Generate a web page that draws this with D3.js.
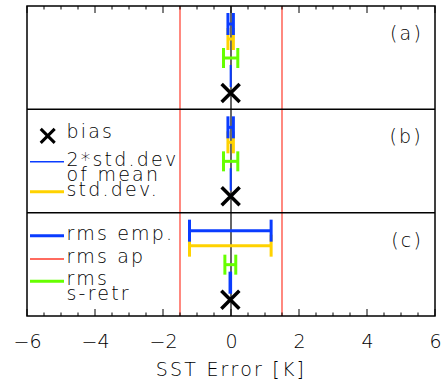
<!DOCTYPE html>
<html>
<head>
<meta charset="utf-8">
<script src="https://cdn.jsdelivr.net/npm/d3@7"></script>
<style>
  html, body { margin: 0; padding: 0; background: #fff; }
  svg text { font-family: "DejaVu Sans", sans-serif; font-weight: 200; font-size: 19px; letter-spacing: 2.2px; fill: #000; }
</style>
</head>
<body>
<svg id="chart" width="441" height="387"></svg>
<script>
// ---- data ----
const panels = ["(a)", "(b)", "(c)"];
const bias = [-0.01, -0.01, -0.02];
const stdMean2 = [0.0, 0.0, 0.02];     // half-width, 2*std.dev of mean
const stdDev = [0.08, 0.08, 1.2];
const rmsEmp = [0.08, 0.08, 1.2];
const rmsSretr = [0.21, 0.21, 0.16];
const rmsAp = 1.5;
const xTicks = [-6, -4, -2, 0, 2, 4, 6];
const xDomain = [-6, 6];
const xTitle = "SST Error [K]";
const legendB = [
  { type: "x", lines: ["bias"] },
  { type: "thin", color: "#0a3cff", lines: ["2*std.dev", "of mean"] },
  { type: "thick", color: "#ffd200", lines: ["std.dev."] }
];
const legendC = [
  { type: "thick", color: "#0a3cff", lines: ["rms emp."] },
  { type: "red", color: "#ff3a2a", lines: ["rms ap"] },
  { type: "thick", color: "#66ff00", lines: ["rms", "s-retr"] }
];

// ---- layout ----
const mL = 27, mR = 435, mT = 6, mB = 316;
const svg = d3.select("#chart");
const x = d3.scaleLinear().domain(xDomain).range([mL, mR]);
const yPanel = d3.scaleBand().domain(panels).range([mT, mB]).padding(0);
const rowOff = [18, 33, 52, 70, 87];

const BLUE = "#0a3cff", YEL = "#ffd200", GRN = "#66ff00", RED = "#ff3a2a";

// reference lines
svg.append("line").attr("x1", x(0)).attr("x2", x(0)).attr("y1", mT).attr("y2", mB)
  .attr("stroke", "#000").attr("stroke-width", 1.2);
[-rmsAp, rmsAp].forEach(v => {
  svg.append("line").attr("x1", x(v)).attr("x2", x(v)).attr("y1", mT).attr("y2", mB)
    .attr("stroke", RED).attr("stroke-width", 1.2);
});

function errbar(g, c, h, y, cap, color, sw) {
  g.append("line").attr("x1", x(c - h)).attr("x2", x(c + h)).attr("y1", y).attr("y2", y)
    .attr("stroke", color).attr("stroke-width", sw);
  [c - h, c + h].forEach(v => {
    g.append("line").attr("x1", x(v)).attr("x2", x(v)).attr("y1", y - cap).attr("y2", y + cap)
      .attr("stroke", color).attr("stroke-width", sw);
  });
}
function xMark(g, cx, cy, r, sw) {
  g.append("path").attr("d", `M${cx - r},${cy - r}L${cx + r},${cy + r}M${cx - r},${cy + r}L${cx + r},${cy - r}`)
    .attr("stroke", "#000").attr("stroke-width", sw).attr("fill", "none");
}

panels.forEach((p, i) => {
  const y0 = yPanel(p);
  const g = svg.append("g");
  errbar(g, bias[i], stdDev[i], y0 + rowOff[1], 11, YEL, 3);
  errbar(g, bias[i], rmsEmp[i], y0 + rowOff[0], 11, BLUE, 3);
  errbar(g, bias[i], rmsSretr[i], y0 + rowOff[2], 10, GRN, 3);
  errbar(g, bias[i], stdMean2[i], y0 + rowOff[3], 11, BLUE, i === 2 ? 2.2 : 1.7);
  xMark(g, x(bias[i]), y0 + rowOff[4], 9, 3.5);
  g.append("text").attr("x", 423).attr("y", y0 + 34).attr("text-anchor", "end").text(p);
});

// panel separators and frame
panels.slice(1).forEach(p => {
  svg.append("line").attr("x1", mL).attr("x2", mR).attr("y1", yPanel(p)).attr("y2", yPanel(p))
    .attr("stroke", "#000").attr("stroke-width", 1.5);
});
svg.append("rect").attr("x", mL).attr("y", mT).attr("width", mR - mL).attr("height", mB - mT)
  .attr("fill", "none").attr("stroke", "#000").attr("stroke-width", 1.5);

// ticks (top and bottom, inward)
const minor = d3.range(xDomain[0], xDomain[1] + 0.001, 0.5);
minor.forEach(v => {
  const len = xTicks.includes(v) ? 7 : 3.5;
  svg.append("line").attr("x1", x(v)).attr("x2", x(v)).attr("y1", mT).attr("y2", mT + len)
    .attr("stroke", "#000").attr("stroke-width", 1);
  svg.append("line").attr("x1", x(v)).attr("x2", x(v)).attr("y1", mB).attr("y2", mB - len)
    .attr("stroke", "#000").attr("stroke-width", 1);
});
const axis = d3.axisBottom(x).tickValues(xTicks).tickSize(0).tickPadding(0)
  .tickFormat(d => (d < 0 ? "\u2212" : "") + Math.abs(d));
const ga = svg.append("g").attr("transform", `translate(0,${mB})`).call(axis);
ga.select(".domain").remove();
ga.selectAll("text").attr("y", 32).attr("dy", null).style("font-size", "19px")
  .style("letter-spacing", "0px")
  .style("font-family", "DejaVu Sans, sans-serif").style("font-weight", 200).attr("fill", "#000");
svg.append("text").attr("x", 231).attr("y", 376).attr("text-anchor", "middle").text(xTitle);

// legends
function legend(entries, y0, baselines) {
  entries.forEach((e, k) => {
    const b = baselines[k];
    if (e.type === "x") {
      xMark(svg, 47.7, y0 + b - 2.5, 7, 3);
    } else {
      const sw = e.type === "thick" ? 3 : 1.5;
      svg.append("line").attr("x1", 30).attr("x2", 64).attr("y1", y0 + b - 4).attr("y2", y0 + b - 4)
        .attr("stroke", e.color).attr("stroke-width", sw);
    }
    e.lines.forEach((t, j) => {
      svg.append("text").attr("x", 66.5).attr("y", y0 + b + j * 15).text(t);
    });
  });
}
legend(legendB, yPanel("(b)"), [29, 56.3, 86.3]);
legend(legendC, yPanel("(c)"), [27, 50.3, 72.7]);
</script>
</body>
</html>
